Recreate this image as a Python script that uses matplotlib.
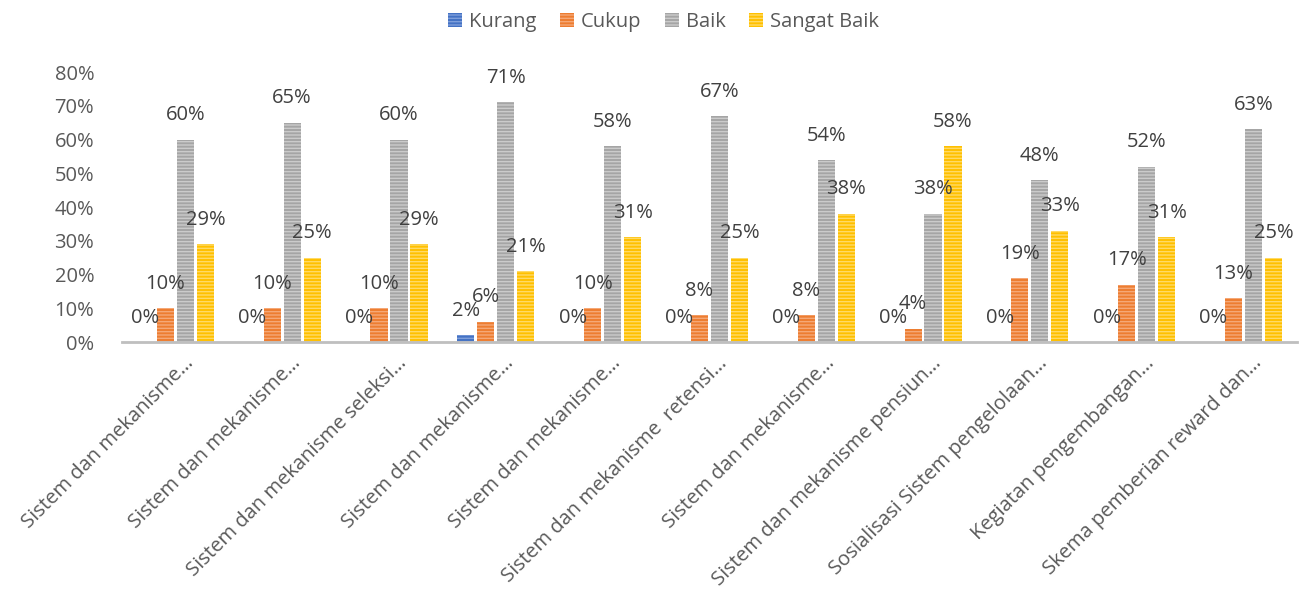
import matplotlib
matplotlib.use("Agg")
import matplotlib.pyplot as plt
import matplotlib.transforms as mtransforms
import numpy as np

plt.rcParams['font.family'] = ['Open Sans', 'DejaVu Sans']
plt.rcParams['hatch.linewidth'] = 1.0

categories = [
    "Sistem dan mekanisme…",
    "Sistem dan mekanisme…",
    "Sistem dan mekanisme seleksi…",
    "Sistem dan mekanisme…",
    "Sistem dan mekanisme…",
    "Sistem dan mekanisme  retensi…",
    "Sistem dan mekanisme…",
    "Sistem dan mekanisme pensiun…",
    "Sosialisasi Sistem pengelolaan…",
    "Kegiatan pengembangan…",
    "Skema pemberian reward dan…",
]
series_names = ["Kurang", "Cukup", "Baik", "Sangat Baik"]
kurang = [0, 0, 0, 2, 0, 0, 0, 0, 0, 0, 0]
cukup = [10, 10, 10, 6, 10, 8, 8, 4, 19, 17, 13]
baik = [60, 65, 60, 71, 58, 67, 54, 38, 48, 52, 63]
sangat_baik = [29, 25, 29, 21, 31, 25, 38, 58, 33, 31, 25]
yticks = [0, 10, 20, 30, 40, 50, 60, 70, 80]

colors = ["#4472C4", "#ED7D31", "#A5A5A5", "#FFC000"]
hatch_colors = ["#7F9FDB", "#F5A877", "#CBCBCB", "#FFDA66"]
text_color = "#595959"
FS = 14.5

fig = plt.figure(figsize=(13.06, 5.91), dpi=100)
ax = fig.add_axes([0.0934, 0.4213, 0.8996, 0.4567])

x = np.arange(len(categories))
width = 0.16
step = 0.187
data = [kurang, cukup, baik, sangat_baik]
handles = []
for i, (vals, name) in enumerate(zip(data, series_names)):
    pos = x + (i - 1.5) * step
    bars = ax.bar(pos, vals, width, color=colors[i], edgecolor=hatch_colors[i],
                  linewidth=0, hatch='-----', label=name)
    handles.append(bars)
    for p, v in zip(pos, vals):
        ax.annotate(f"{v}%", xy=(p, v), xytext=(0, 17.5), textcoords='offset points',
                    ha='center', va='center', fontsize=FS, color="#404040")

ax.set_xlim(-0.5, len(categories) - 0.5)
ax.set_ylim(0, 80)
ax.set_yticks(yticks)
ax.set_yticklabels([f"{t}%" for t in yticks])
ax.tick_params(axis='y', length=0, pad=20, labelsize=FS, labelcolor=text_color)
ax.tick_params(axis='x', length=0, pad=3, labelsize=FS, labelcolor=text_color)
ax.set_xticks(x)
ax.set_xticklabels(categories, rotation=45, ha='right', va='top', rotation_mode='anchor')
offset = mtransforms.ScaledTranslation(8 / 100, -7 / 100, fig.dpi_scale_trans)
for lab in ax.get_xticklabels():
    lab.set_transform(lab.get_transform() + offset)

for s in ['top', 'right', 'left']:
    ax.spines[s].set_visible(False)
ax.spines['bottom'].set_color('#BFBFBF')
ax.spines['bottom'].set_linewidth(2)

leg = fig.legend(handles=handles, labels=series_names, loc='upper center',
                 bbox_to_anchor=(0.508, 1.01), ncol=4, frameon=False, fontsize=FS,
                 handlelength=0.7, handleheight=0.7, handletextpad=0.35,
                 columnspacing=1.15, labelcolor=text_color)

fig.savefig("out.png", dpi=100)
